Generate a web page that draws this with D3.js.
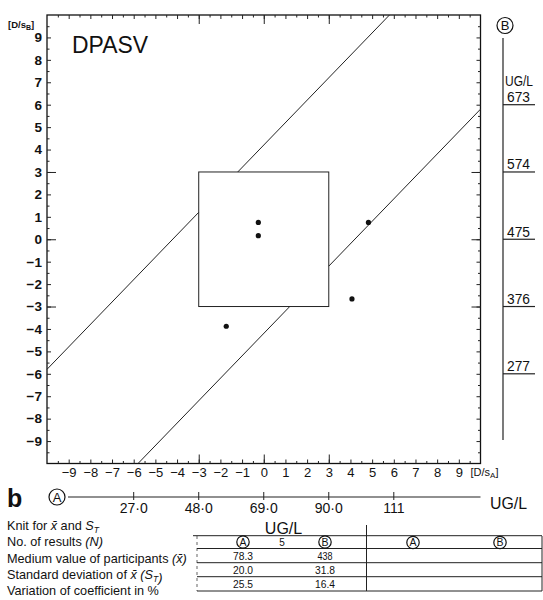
<!DOCTYPE html>
<html>
<head>
<meta charset="utf-8">
<script src="https://cdn.jsdelivr.net/npm/d3@7"></script>
<style>
  body { margin: 0; background: #fff; }
  svg { display: block; font-family: "Liberation Sans", Arial, sans-serif; }
</style>
</head>
<body>
<svg id="chart" width="543" height="600"></svg>
<script>
// deviations in units of s (x = lab A, y = lab B)
const tickVals = d3.range(-9, 10);
const halfTicks = d3.range(-9.5, 10, 1);
const boxTicks = [-3, 0, 3];
const boxLimit = 3;
const lineOffsets = [4.2, -4.2];

const pointsX = [-0.25, -0.25, 4.83, 4.07, -1.73];
const pointsY = [0.75, 0.16, 0.75, -2.66, -3.88];

// concentration axes
const aMean = 69, aStep = 7;
const aTicks = [27, 48, 69, 90, 111];
const aLabels = ["27·0", "48·0", "69·0", "90·0", "111"];
const bMean = 475, bStep = 33;
const bTicks = [673, 574, 475, 376, 277];

// table
const rowLabels = [
  ["Knit for ", {t: "x\u0304", i: true}, " and ", {t: "S", i: true}, {t: "T", i: true, sub: true}],
  ["No. of results ", {t: "(N)", i: true}],
  ["Medium value of participants ", {t: "(x\u0304)", i: true}],
  ["Standard deviation of ", {t: "x\u0304", i: true}, " ", {t: "(S", i: true}, {t: "T", i: true, sub: true}, {t: ")", i: true}],
  ["Variation of coefficient in %"]
];
const headerCells = ["A", "5", "B"];
const colA = ["78.3", "20.0", "25.5"];
const colB = ["438", "31.8", "16.4"];

const margin = {top: 15, right: 62.5, bottom: 136.5, left: 47};
const width = 543, height = 600;

const svg = d3.select("#chart");

const x = d3.scaleLinear().domain([-10, 10]).range([margin.left, width - margin.right]);
const y = d3.scaleLinear().domain([-10, 10]).range([height - margin.bottom, margin.top]);

const aScale = d3.scaleLinear().domain([aMean - 10 * aStep, aMean + 10 * aStep]).range(x.range());
const bScale = d3.scaleLinear().domain([bMean - 10 * bStep, bMean + 10 * bStep]).range(y.range());

const x0 = margin.left, x1 = width - margin.right, y0 = margin.top, y1 = height - margin.bottom;

// frame
svg.append("rect")
    .attr("x", x0).attr("y", y0)
    .attr("width", x1 - x0).attr("height", y1 - y0)
    .attr("fill", "none").attr("stroke", "#111").attr("stroke-width", 1.3);

// tick helpers
function ticksOn(axisFn, pos, vals, size) {
    const ax = axisFn(pos === "left" || pos === "right" ? y : x)
        .tickValues(vals).tickSizeInner(-size).tickSizeOuter(0).tickFormat("");
    const g = svg.append("g");
    if (pos === "left") g.attr("transform", `translate(${x0},0)`);
    if (pos === "right") g.attr("transform", `translate(${x1},0)`);
    if (pos === "top") g.attr("transform", `translate(0,${y0})`);
    if (pos === "bottom") g.attr("transform", `translate(0,${y1})`);
    g.call(ax);
    g.select(".domain").remove();
    g.selectAll(".tick line").attr("stroke", "#222").attr("stroke-width", 1);
    return g;
}

[["left", d3.axisLeft], ["right", d3.axisRight], ["top", d3.axisTop], ["bottom", d3.axisBottom]].forEach(([p, fn]) => {
    ticksOn(fn, p, halfTicks, 2.5);
    ticksOn(fn, p, tickVals, 4);
    ticksOn(fn, p, boxTicks, 9);
});

// labelled axes
const yAxisG = svg.append("g")
    .attr("transform", `translate(${x0},0)`)
    .call(d3.axisLeft(y).tickValues(tickVals).tickSize(0).tickPadding(5));
yAxisG.select(".domain").remove();
yAxisG.selectAll("text")
    .attr("font-family", "'Liberation Sans', Arial, sans-serif")
    .attr("font-size", 13.5).attr("font-weight", "bold").attr("fill", "#111");

const xAxisG = svg.append("g")
    .attr("transform", `translate(0,${y1})`)
    .call(d3.axisBottom(x).tickValues(tickVals).tickSize(0).tickPadding(4));
xAxisG.select(".domain").remove();
xAxisG.selectAll("text")
    .attr("font-family", "'Liberation Sans', Arial, sans-serif")
    .attr("font-size", 13).attr("fill", "#111");

// axis units
const unitB = svg.append("text").attr("x", 8).attr("y", 28).attr("font-size", 9.5)
    .attr("font-weight", "bold").attr("fill", "#111");
unitB.append("tspan").text("[D/s");
unitB.append("tspan").attr("font-size", 7).attr("dy", 2).text("B");
unitB.append("tspan").attr("dy", -2).text("]");

const unitA = svg.append("text").attr("x", x1 - 10).attr("y", 476).attr("font-size", 11).attr("fill", "#111");
unitA.append("tspan").text("[D/s");
unitA.append("tspan").attr("font-size", 8).attr("dy", 2).text("A");
unitA.append("tspan").attr("dy", -2).text("]");

svg.append("text").attr("x", 72).attr("y", 53)
    .attr("font-size", 24).attr("textLength", 76).attr("lengthAdjust", "spacingAndGlyphs")
    .attr("fill", "#111").text("DPASV");

// inner +-3 box
svg.append("rect")
    .attr("x", x(-boxLimit)).attr("y", y(boxLimit))
    .attr("width", x(boxLimit) - x(-boxLimit)).attr("height", y(-boxLimit) - y(boxLimit))
    .attr("fill", "none").attr("stroke", "#222").attr("stroke-width", 1);

// diagonal limit lines, interrupted inside the box
const segs = [];
lineOffsets.forEach(c => {
    const s = Math.max(-10, -10 - c), e = Math.min(10, 10 - c);
    const bIn = Math.max(-boxLimit, -boxLimit - c), bOut = Math.min(boxLimit, boxLimit - c);
    segs.push([s, bIn, c], [bOut, e, c]);
});
svg.append("g").selectAll("line")
    .data(segs)
    .join("line")
    .attr("x1", d => x(d[0])).attr("y1", d => y(d[0] + d[2]))
    .attr("x2", d => x(d[1])).attr("y2", d => y(d[1] + d[2]))
    .attr("stroke", "#222").attr("stroke-width", 1);

// results
svg.append("g").selectAll("circle")
    .data(pointsX.map((v, i) => [v, pointsY[i]]))
    .join("circle")
    .attr("cx", d => x(d[0])).attr("cy", d => y(d[1]))
    .attr("r", 2.6).attr("fill", "#111");

function circled(g, cx, cy, r, letter, fs) {
    g.append("circle").attr("cx", cx).attr("cy", cy).attr("r", r)
        .attr("fill", "none").attr("stroke", "#111").attr("stroke-width", 1.2);
    g.append("text").attr("x", cx).attr("y", cy).attr("dy", "0.36em")
        .attr("text-anchor", "middle").attr("font-size", fs).attr("fill", "#111").text(letter);
}

// B axis (right)
const bx = 503;
svg.append("line").attr("x1", bx).attr("x2", bx).attr("y1", 38).attr("y2", 440)
    .attr("stroke", "#222").attr("stroke-width", 1.2);
circled(svg, 505, 25.5, 8, "B", 13);
svg.append("text").attr("x", 505).attr("y", 85.5).attr("font-size", 15)
    .attr("textLength", 28).attr("lengthAdjust", "spacingAndGlyphs").attr("fill", "#111").text("UG/L");
const bG = svg.append("g").selectAll("g").data(bTicks).join("g");
bG.append("line").attr("x1", bx).attr("x2", 535)
    .attr("y1", d => bScale(d)).attr("y2", d => bScale(d))
    .attr("stroke", "#222").attr("stroke-width", 1.2);
bG.append("text").attr("x", 507).attr("y", d => bScale(d) - 2.5)
    .attr("font-size", 14).attr("textLength", 23).attr("lengthAdjust", "spacingAndGlyphs")
    .attr("fill", "#111").text(d => d);

// b panel: A axis
svg.append("text").attr("x", 7).attr("y", 507).attr("font-size", 25).attr("font-weight", "bold")
    .attr("fill", "#111").text("b");
circled(svg, 57, 497, 8, "A", 13);
const ay = 497;
svg.append("line").attr("x1", 68).attr("x2", x1).attr("y1", ay).attr("y2", ay)
    .attr("stroke", "#222").attr("stroke-width", 1.1);
const aG = svg.append("g").selectAll("g").data(aTicks).join("g");
aG.append("line").attr("x1", d => aScale(d)).attr("x2", d => aScale(d))
    .attr("y1", ay - 5).attr("y2", ay + 3).attr("stroke", "#222");
aG.append("text").attr("x", d => aScale(d)).attr("y", 513)
    .attr("text-anchor", "middle").attr("font-size", 14).attr("fill", "#111")
    .text((d, i) => aLabels[i]);
svg.append("text").attr("x", 490).attr("y", 509).attr("font-size", 16)
    .attr("textLength", 37).attr("lengthAdjust", "spacingAndGlyphs").attr("fill", "#111").text("UG/L");

// row labels
const rowBase = [530, 546.3, 562.5, 578.8, 595];
rowLabels.forEach((parts, i) => {
    const t = svg.append("text").attr("x", 7).attr("y", rowBase[i]).attr("font-size", 12.7).attr("fill", "#111");
    parts.forEach(p => {
        if (typeof p === "string") { t.append("tspan").text(p); return; }
        const sp = t.append("tspan").text(p.t);
        if (p.i) sp.attr("font-style", "italic");
        if (p.sub) { sp.attr("font-size", 8.5).attr("dy", 3); t.append("tspan").attr("dy", -3).text(""); }
    });
});

// table grid
const tbl = svg.append("g").attr("stroke", "#222").attr("stroke-width", 1);
const hLines = [535.7, 548.5, 562.7, 576.7, 591];
tbl.selectAll("line.h").data(hLines).join("line").attr("class", "h")
    .attr("x1", (d, i) => i === 0 ? 193 : 197).attr("x2", 542)
    .attr("y1", d => d).attr("y2", d => d);
tbl.append("line").attr("x1", 366.5).attr("x2", 366.5).attr("y1", 525).attr("y2", 591);
tbl.append("line").attr("x1", 197).attr("x2", 197).attr("y1", 536).attr("y2", 591)
    .attr("stroke-dasharray", "3,3").attr("stroke-width", 0.7);
tbl.append("line").attr("x1", 542).attr("x2", 542).attr("y1", 536).attr("y2", 591);

svg.append("text").attr("x", 283.5).attr("y", 533.5).attr("text-anchor", "middle")
    .attr("font-size", 16).attr("fill", "#111").text("UG/L");

const colX = [243, 282, 325];
circled(svg, colX[0], 542, 6.2, headerCells[0], 10.5);
svg.append("text").attr("x", colX[1]).attr("y", 545.5).attr("text-anchor", "middle")
    .attr("font-size", 10).attr("fill", "#111").text(headerCells[1]);
circled(svg, colX[2], 542, 6.2, headerCells[2], 10.5);
circled(svg, 413, 542.5, 6.2, "A", 10.5);
circled(svg, 500, 542.5, 6.2, "B", 10.5);

const cellBase = [559.5, 573.5, 587.5];
[colA, colB].forEach((col, j) => {
    svg.append("g").selectAll("text").data(col).join("text")
        .attr("x", j === 0 ? colX[0] : colX[2]).attr("y", (d, i) => cellBase[i])
        .attr("text-anchor", "middle").attr("font-size", 11)
        .attr("textLength", d => d.length * 5).attr("lengthAdjust", "spacingAndGlyphs")
        .attr("fill", "#111").text(d => d);
});
</script>
</body>
</html>
